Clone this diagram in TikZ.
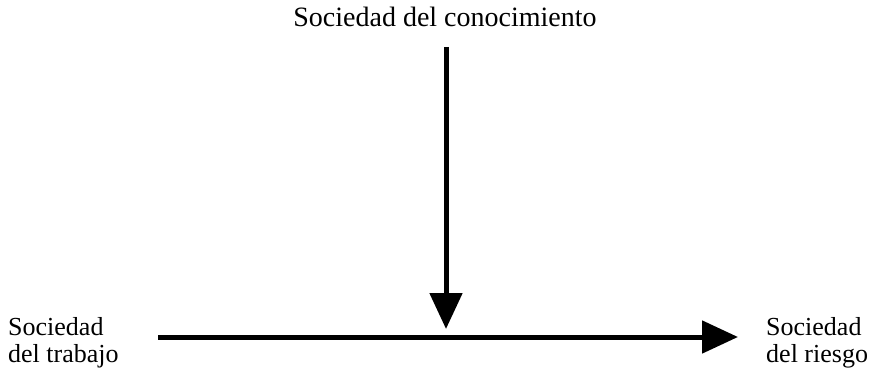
\documentclass[tikz,border=0pt]{standalone}
\usepackage{fontspec}
\setmainfont{Liberation Serif}
\usetikzlibrary{arrows.meta}
\begin{document}
\begin{tikzpicture}[x=1pt,y=1pt,
  lbl/.style={inner sep=0pt, font=\fontsize{26}{27}\selectfont, align=left},
  toplbl/.style={inner sep=0pt, font=\fontsize{28}{30}\selectfont},
  arr/.style={line width=5pt, -{Triangle[length=36pt,width=32pt]}}]
\useasboundingbox (0,0) rectangle (885,373);
\node[toplbl, anchor=base] (top) at (445,346) {Sociedad del conocimiento};
\node[lbl, anchor=base west] (left) at (8,11) {Sociedad\\del trabajo};
\node[lbl, anchor=base west] (right) at (766,11) {Sociedad\\del riesgo};
\coordinate (vs) at (446,326);
\coordinate (ve) at (446,44);
\coordinate (hs) at (158,36);
\coordinate (he) at (738,36);
\draw[arr] (vs) -- (ve);
\draw[arr] (hs) -- (he);
\end{tikzpicture}
\end{document}
